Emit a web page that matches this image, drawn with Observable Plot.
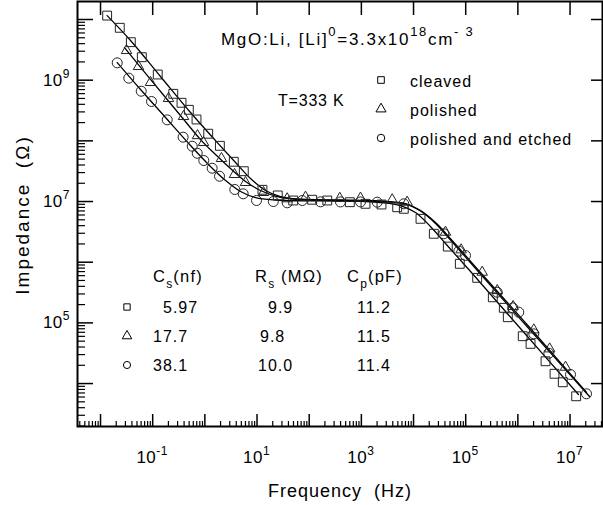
<!DOCTYPE html>
<html><head><meta charset="utf-8">
<script src="https://cdn.jsdelivr.net/npm/d3@7"></script>
<script src="https://cdn.jsdelivr.net/npm/@observablehq/plot@0.6"></script>
<style>
body{margin:0;background:#fff;}
#chart svg{font-family:"Liberation Sans",Arial,sans-serif;}
</style></head><body><div id="chart"></div>
<script>
// ---- measured points (frequency Hz, impedance Ohm) ----
const cleavedFreq = [0.0134,0.0234,0.0381,0.0619,0.125,0.248,0.357,0.493,0.692,1.16,1.94,3.59,5.58,12.7,25.0,49.4,114,222,601,1200,2430,4860,6510,13600,24500,45400,77100,166000,331000,538000,641000,1240000,1750000,3390000,5040000,7260000,13100000];
const cleavedZ    = [1.16e10,7.3e9,4.23e9,2.39e9,1.24e9,5.96e8,4.24e8,3.25e8,2.25e8,1.31e8,8.28e7,4.52e7,3.16e7,1.56e7,1.26e7,1.04e7,1.07e7,1.04e7,9.75e6,9.17e6,8.93e6,8.05e6,7.58e6,5.19e6,2.94e6,1.81e6,9.4e5,5.52e5,2.64e5,1.77e5,1.24e5,6.03e4,4.51e4,2.33e4,1.45e4,1.05e4,6.17e3];
const polishedFreq = [0.0315,0.0535,0.0908,0.201,0.390,0.723,0.942,2.08,3.70,6.02,13.3,37.8,84.9,386,963,3900,7540,41000,81700,207000,402000,811000,2020000,4070000,8190000];
const polishedZ    = [3.08e9,1.68e9,9.16e8,4.99e8,2.52e8,1.22e8,9.39e7,5.12e7,2.79e7,2.06e7,1.41e7,1.11e7,1.18e7,1.13e7,1.14e7,1.07e7,9.75e6,3.12e6,1.60e6,6.84e5,3.41e5,1.86e5,7.67e4,3.73e4,1.86e4];
const etchedFreq = [0.0209,0.0348,0.0603,0.0951,0.190,0.383,0.573,0.714,0.955,1.38,1.91,3.75,5.43,9.78,20.5,37.9,73.5,165,398,963,2010,6510,38000,73800,99100,402000,800000,1040000,2020000,3920000,10200000,20700000];
const etchedZ    = [1.93e9,1.08e9,6.58e8,4.45e8,2.22e8,1.15e8,8.16e7,6.25e7,4.74e7,3.54e7,2.61e7,1.58e7,1.34e7,1.04e7,1.0e7,9.52e6,1.04e7,9.89e6,9.85e6,9.85e6,9.75e6,9.17e6,2.94e6,1.52e6,1.29e6,3.20e5,1.77e5,1.50e5,6.59e4,3.16e4,1.41e4,6.78e3];

// ---- fitted curves ----
const cleavedFitFreq = [0.0134,0.0376,0.141,0.531,1.60,3.87,7.50,14.5,28.2,68.2,398,2330,5620,10900,21100,41000,124000,1120000,14500000];
const cleavedFitZ    = [1.16e10,4.51e9,1.15e9,2.93e8,1.01e8,4.40e7,2.39e7,1.52e7,1.21e7,1.08e7,1.04e7,9.64e6,8.60e6,6.59e6,3.87e6,2.03e6,7.02e5,8.07e4,6.59e3];
const polishedFitFreq = [0.0288,0.0908,0.274,0.826,1.60,3.10,6.02,11.7,22.6,54.7,398,2330,7020,13600,26400,51200,192000,1750000,20700000];
const polishedFitZ    = [3.45e9,1.03e9,3.29e8,1.05e8,5.96e7,3.50e7,2.14e7,1.52e7,1.23e7,1.10e7,1.06e7,1.02e7,9.27e6,7.11e6,4.51e6,2.45e6,6.76e5,8.07e4,7.11e3];
const etchedFitFreq = [0.0209,0.0585,0.176,0.531,1.28,2.49,4.83,9.36,22.6,398,2330,7020,13600,26400,51200,192000,1750000,23600000];
const etchedFitZ    = [1.95e9,7.02e8,2.43e8,8.38e7,3.78e7,2.22e7,1.46e7,1.16e7,1.06e7,1.02e7,9.85e6,9.10e6,6.98e6,4.34e6,2.32e6,6.38e5,7.48e4,6.11e3];

const seriesNames = ["cleaved","polished","polished and etched"];
const seriesSymbols = ["square","triangle","circle"];

// table of fit parameters
const tableHeaders = [["C","s","(nf)"],["R","s"," (M\u03A9)"],["C","p","(pF)"]];
const csValues = ["5.97","17.7","38.1"];
const rsValues = ["9.9","9.8","10.0"];
const cpValues = ["11.2","11.5","11.4"];

// ticks
const xMajor = d3.range(-2, 8).map(e => 10 ** e);
const yMajor = d3.range(4, 11).map(e => 10 ** e);
const xLabelExp = [-1, 1, 3, 5, 7];
const yLabelExp = [5, 7, 9];

const xDomain = [3.62e-3, 4.19e7];
const yDomain = [1.96e3, 1.98e10];
const minorIn = (dom, e0, e1) => {
  const out = [];
  for (let e = e0; e <= e1; e++) for (let m = 2; m <= 9; m++) {
    const v = m * 10 ** e; if (v > dom[0] && v < dom[1]) out.push(v);
  }
  return out;
};
const xMinor = minorIn(xDomain, -3, 7);
const yMinor = minorIn(yDomain, 3, 10);

const toRows = (name, F, Z) => F.map((f, i) => ({series: name, f, z: Z[i]}));
const pts = [
  toRows("cleaved", cleavedFreq, cleavedZ),
  toRows("polished", polishedFreq, polishedZ),
  toRows("polished and etched", etchedFreq, etchedZ)
];
const fits = [
  toRows("cleaved", cleavedFitFreq, cleavedFitZ),
  toRows("polished", polishedFitFreq, polishedFitZ),
  toRows("polished and etched", etchedFitFreq, etchedFitZ)
];

const W = 603, H = 505, mL = 77, mR = 1, mT = 1, mB = 79;
const iw = W - mL - mR, ih = H - mT - mB;
const symR = {square: 5.0, triangle: 3.9, circle: 5.0};

const plot = Plot.plot({
  width: W, height: H,
  marginLeft: mL, marginRight: mR, marginTop: mT, marginBottom: mB,
  x: {type: "log", domain: xDomain, axis: null},
  y: {type: "log", domain: yDomain, axis: null},
  style: {background: "white", fontFamily: "Liberation Sans, Arial, sans-serif"},
  marks: [
    Plot.tickX(xMajor, {x: d => d, insetTop: ih - 12, stroke: "black", strokeWidth: 1.5}),
    Plot.tickX(xMinor, {x: d => d, insetTop: ih - 5, stroke: "black", strokeWidth: 1.2}),
    Plot.tickX(xMajor, {x: d => d, insetBottom: ih - 14, stroke: "black", strokeWidth: 1.5}),
    Plot.tickY(yMajor, {y: d => d, insetRight: iw - 16, stroke: "black", strokeWidth: 1.5}),
    Plot.tickY(yMinor, {y: d => d, insetRight: iw - 8, stroke: "black", strokeWidth: 1.2}),
    Plot.tickY(yMajor, {y: d => d, insetLeft: iw - 11, stroke: "black", strokeWidth: 1.5}),
    ...fits.map(d => Plot.line(d, {x: "f", y: "z", curve: "catmull-rom", stroke: "black", strokeWidth: 1.3})),
    ...pts.map((d, i) => Plot.dot(d, {x: "f", y: "z", symbol: () => seriesSymbols[i], r: symR[seriesSymbols[i]], stroke: "#222", strokeWidth: 1, fill: "none"})),
    Plot.frame({stroke: "black", strokeWidth: 2})
  ]
});

document.getElementById("chart").appendChild(plot);
const svg = d3.select(plot);
const sx = plot.scale("x"), sy = plot.scale("y");

// rich text helper: parts = [[text, kind]] where kind in null|"sup"|"sub"
function rich(x, y, parts, {size = 16, anchor = "start", spacing = 1, rotate = 0, supSize = 11, supDy = 7, subDy = 6} = {}) {
  const t = svg.append("text")
    .attr("x", x).attr("y", y)
    .attr("font-size", size)
    .attr("letter-spacing", spacing)
    .attr("text-anchor", anchor)
    .attr("fill", "black");
  if (rotate) t.attr("transform", `rotate(${rotate},${x},${y})`);
  let off = 0;
  for (const [s, kind] of parts) {
    const target = kind === "sup" ? -supDy : kind === "sub" ? subDy : 0;
    const sp = t.append("tspan").text(s).attr("dy", target - off);
    if (kind) sp.attr("font-size", supSize);
    off = target;
  }
  return t;
}

// axis tick labels
xLabelExp.forEach(e => rich(sx.apply(10 ** e), 463, [["10"], [String(e), "sup"]], {size: 17, anchor: "middle", spacing: 0.5, supSize: 12, supDy: 8}));
yLabelExp.forEach(e => rich(70, sy.apply(10 ** e) + 6, [["10"], [String(e), "sup"]], {size: 17, anchor: "end", spacing: 0.5, supSize: 12, supDy: 8}));

// axis titles
rich(340, 497, [["Frequency  (Hz)"]], {size: 18, anchor: "middle", spacing: 1});
rich(29, 215, [["Impedance  (\u03A9)"]], {size: 19, anchor: "middle", spacing: 2, rotate: -90});

// annotations
rich(221, 45, [["MgO:Li, [Li]"], ["0", "sup"], ["=3.3x10"], ["18", "sup"], ["cm"], ["- 3", "sup"]], {size: 17, spacing: 1.7, supSize: 13, supDy: 9});
rich(278, 106, [["T=333 K"]], {size: 16, spacing: 0.8});

// legend
const sym = (name, size) => d3.symbol(name === "square" ? d3.symbolSquare : name === "triangle" ? d3.symbolTriangle : d3.symbolCircle, size)();
const legendY = [80, 109, 138];
seriesNames.forEach((n, i) => {
  svg.append("path").attr("d", sym(seriesSymbols[i], 44)).attr("transform", `translate(381,${legendY[i]})`)
    .attr("fill", "none").attr("stroke", "black").attr("stroke-width", 1);
  rich(410, legendY[i] + 7, [[n]], {size: 16, spacing: 1});
});

// parameter table
const headX = [153, 255, 347];
tableHeaders.forEach((h, i) => rich(headX[i], 282, [[h[0]], [h[1], "sub"], [h[2]]], {size: 16.5, spacing: 1.2, supSize: 12, subDy: 6}));
const rowY = [307, 336, 365];
seriesNames.forEach((n, i) => {
  svg.append("path").attr("d", sym(seriesSymbols[i], 40)).attr("transform", `translate(127,${rowY[i]})`)
    .attr("fill", "none").attr("stroke", "black").attr("stroke-width", 1);
});
const csX = [163, 153, 153], rsX = [268, 260, 258], cpX = [357, 357, 357];
csValues.forEach((v, i) => rich(csX[i], rowY[i] + 6, [[v]], {size: 16, spacing: 1}));
rsValues.forEach((v, i) => rich(rsX[i], rowY[i] + 6, [[v]], {size: 16, spacing: 1}));
cpValues.forEach((v, i) => rich(cpX[i], rowY[i] + 6, [[v]], {size: 16, spacing: 1}));
</script></body></html>
